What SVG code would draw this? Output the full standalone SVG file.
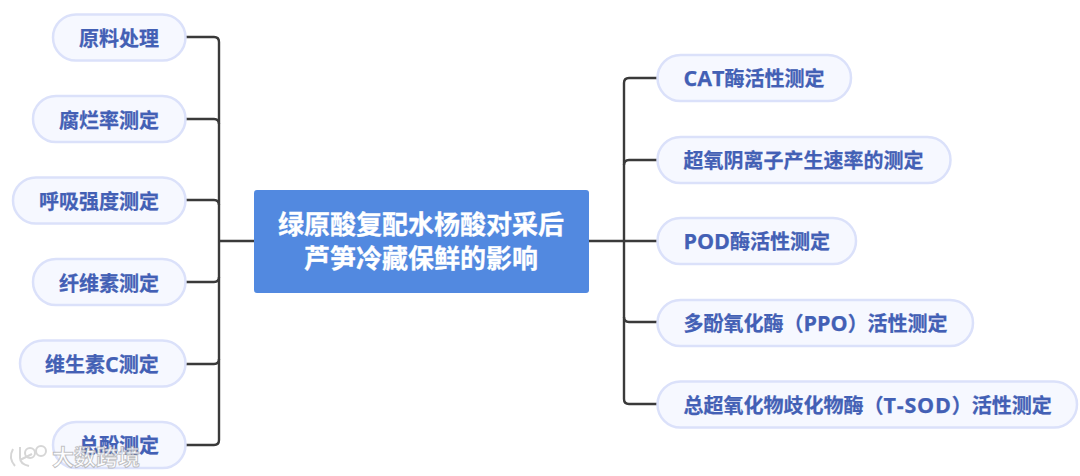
<svg xmlns="http://www.w3.org/2000/svg" width="1080" height="476" viewBox="0 0 1080 476">
<style>
text{font-family:"Open Sans","Noto Sans CJK SC",sans-serif;font-weight:700}
.n rect{fill:#f6f8ff;stroke:#dbe1fa;stroke-width:2.5}
.n text{fill:#4360b5;font-size:20px;stroke:#4360b5;stroke-width:.25}
.l{font-size:21.500px}
.c{fill:none;stroke:#3a3a3a;stroke-width:2.4}
.w{fill:#fff;fill-opacity:.8;stroke:#8f8f8f;stroke-opacity:.55;stroke-width:1}
.g{fill:none;stroke:#d6d6d6;stroke-width:2}
</style>
<rect width="1080" height="476" fill="#fff"/>
<g id="connectors" class="c">
<path d="M186 37H214Q219 37 219 42V440Q219 445 214 445H186"/>
<path d="M186 119H214Q219 119 219 124"/>
<path d="M186 200H214Q219 200 219 205"/>
<path d="M186 282H214Q219 282 219 277"/>
<path d="M186 364H214Q219 364 219 359"/>
<path d="M219 241H254"/>
<path d="M589 241H657"/>
<path d="M657 78H629Q624 78 624 83V399Q624 404 629 404H657"/>
<path d="M657 160H629Q624 160 624 165"/>
<path d="M657 322H629Q624 322 624 317"/>
</g>
<g id="root">
<rect x="254" y="190" width="335" height="103" rx="3" fill="#5289e0"/>
<text x="421" y="234" text-anchor="middle" font-size="26" fill="#fff" stroke="#fff" stroke-width=".3">绿原酸复配水杨酸对采后</text>
<text x="421" y="268" text-anchor="middle" font-size="26" fill="#fff" stroke="#fff" stroke-width=".3">芦笋冷藏保鲜的影响</text>
</g>
<g id="n1" class="n"><rect x="53" y="14.500" width="132.500" height="46" rx="23"/><text x="79" y="45.500">原料处理</text></g>
<g id="n2" class="n"><rect x="33" y="96" width="152.500" height="46" rx="23"/><text x="59" y="127.500">腐烂率测定</text></g>
<g id="n3" class="n"><rect x="13" y="177.500" width="172.500" height="46" rx="23"/><text x="39" y="209">呼吸强度测定</text></g>
<g id="n4" class="n"><rect x="33" y="259" width="152.500" height="46" rx="23"/><text x="59" y="290.500">纤维素测定</text></g>
<g id="n5" class="n"><rect x="20" y="340.500" width="165.500" height="46" rx="23"/><text x="45" y="372">维生素<tspan class="l">C</tspan>测定</text></g>
<g id="n6" class="n"><rect x="53" y="422" width="132.500" height="46" rx="23"/><text x="79" y="453">总酚测定</text></g>
<g id="n7" class="n"><rect x="657.500" y="55" width="193.500" height="46" rx="23"/><text x="683.500" y="86"><tspan class="l">CAT</tspan>酶活性测定</text></g>
<g id="n8" class="n"><rect x="657.500" y="137" width="293" height="46" rx="23"/><text x="683.500" y="168">超氧阴离子产生速率的测定</text></g>
<g id="n9" class="n"><rect x="657.500" y="218" width="198.500" height="46" rx="23"/><text x="683.500" y="249"><tspan class="l">POD</tspan>酶活性测定</text></g>
<g id="n10" class="n"><rect x="657.500" y="300" width="315.500" height="46" rx="23"/><text x="683.500" y="330.500">多酚氧化酶（<tspan class="l">PPO</tspan>）活性测定</text></g>
<g id="n11" class="n"><rect x="657.500" y="381.500" width="419.500" height="46" rx="23"/><text x="683.500" y="412.500">总超氧化物歧化物酶（<tspan class="l" letter-spacing=".8">T-SOD</tspan>）活性测定</text></g>
<g id="watermark">
<path class="g" d="M13 449Q8 458 15 466"/>
<path class="g" d="M20 447V458Q20 464 29 466M20 460L32 454"/>
<circle cx="30" cy="453" r="5" class="g"/>
<circle cx="41" cy="451" r="5" class="g"/>
<text x="52" y="465" font-size="22" class="w">大数跨境</text>
</g>
</svg>
